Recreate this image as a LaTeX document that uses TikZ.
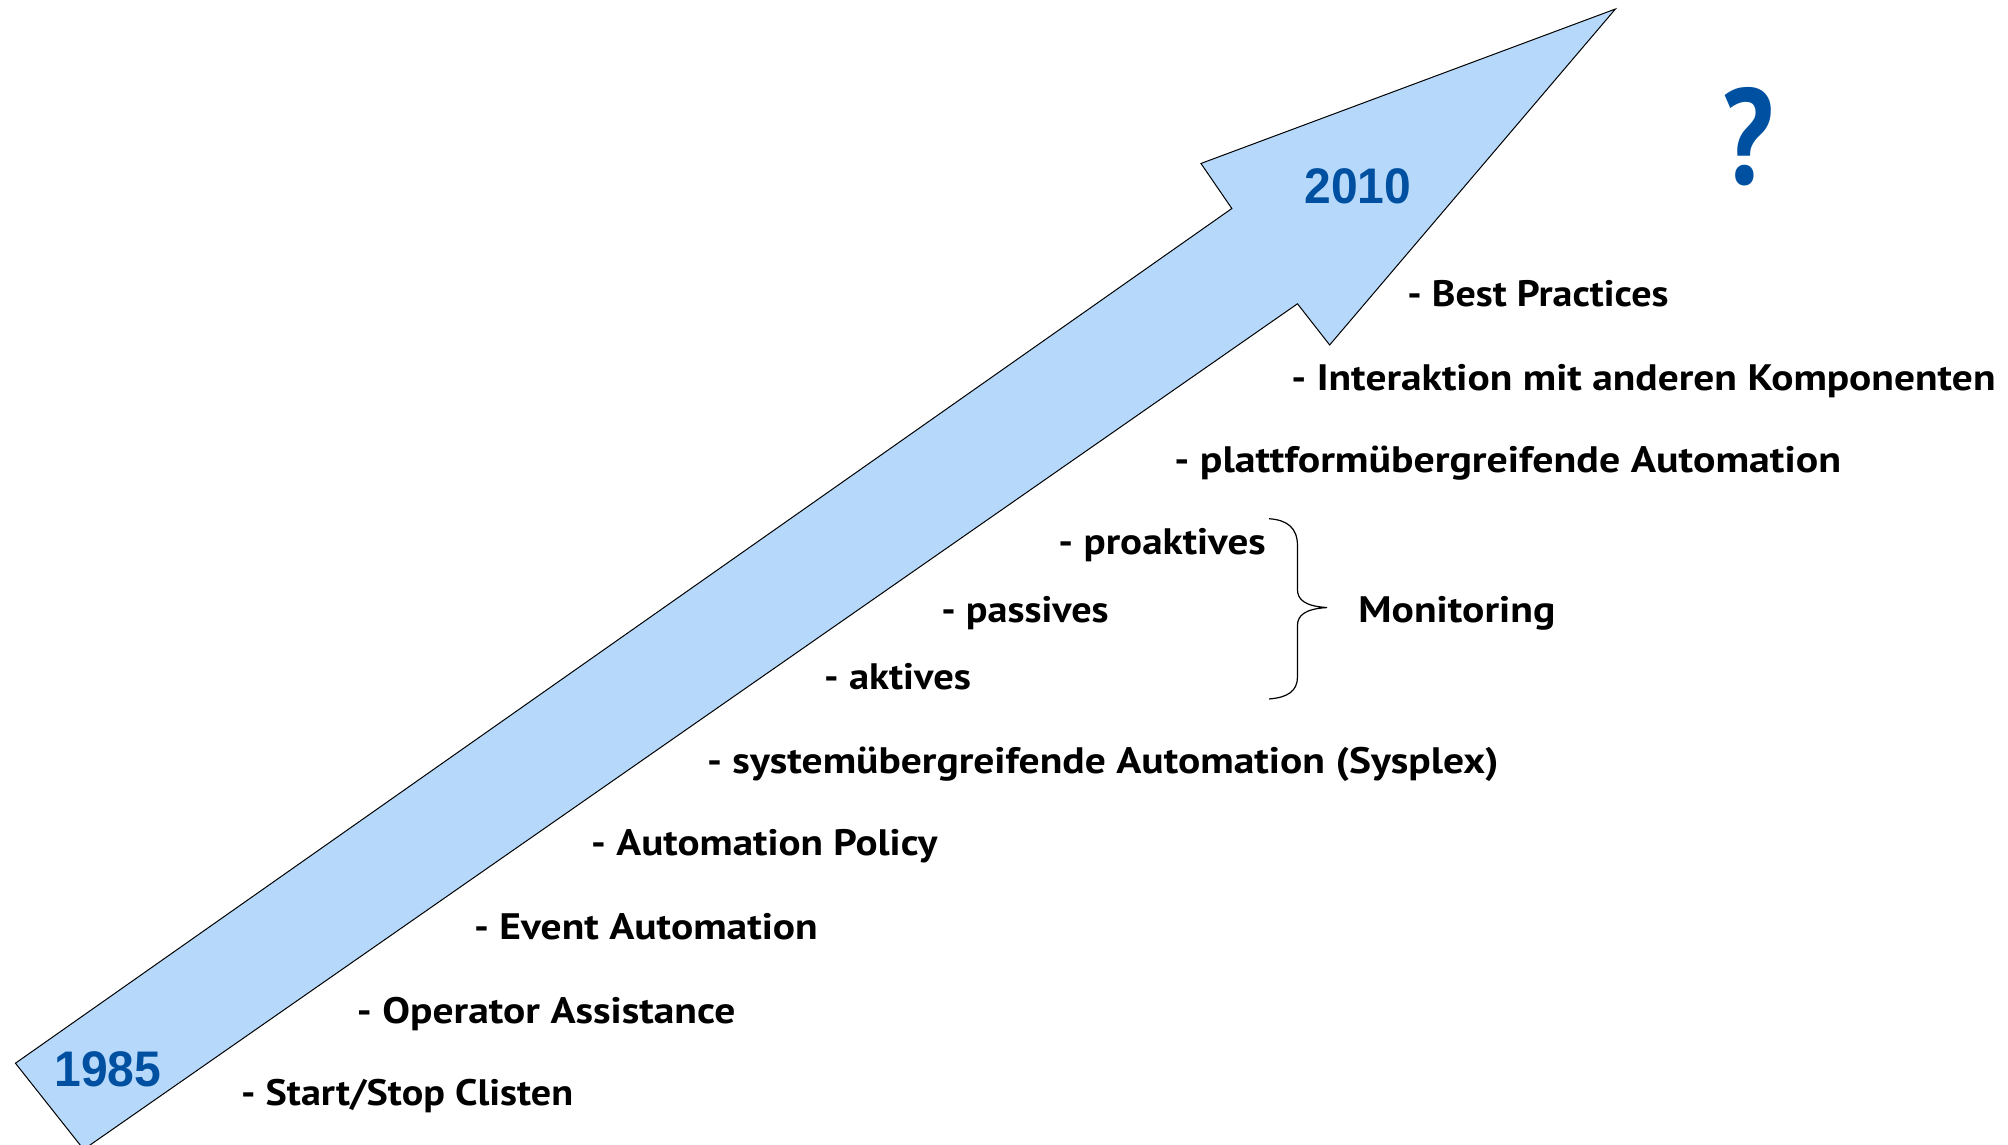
\documentclass[tikz,border=0pt]{standalone}
\usepackage{fontspec}
\setmainfont{PT Sans}
\newfontfamily\yearfont{Liberation Sans}
\usepackage{graphicx}
\definecolor{arrowfill}{RGB}{182,217,251}
\definecolor{yearblue}{RGB}{0,80,162}
\newsavebox\fitbox
\newcommand\fitw[2]{\sbox\fitbox{#2}\pgfmathsetmacro\fitratio{#1*0.6436/\the\wd\fitbox}\scalebox{\fitratio}[1]{\usebox\fitbox}}
\tikzset{
  item/.style={anchor=base west, inner sep=0pt, font=\fontsize{18.4}{20}\selectfont\bfseries, text=black},
  year/.style={anchor=base west, inner sep=0pt, font=\yearfont\fontsize{25}{28}\selectfont\bfseries, text=yearblue},
}
\begin{document}
\begin{tikzpicture}[x=0.6436pt, y=-0.6436pt]
\useasboundingbox (0,0) rectangle (1560,889.5);
% big arrow
\draw[fill=arrowfill, draw=black, line width=0.5pt, line join=miter]
  (12,826) -- (957,162) -- (933,127) -- (1255,7) -- (1033,268) -- (1008,236) -- (65,893) -- cycle;
% years
\node[year] (y1985) at (42,844) {\fitw{83}{1985}};
\node[year] (y2010) at (1013,158) {\fitw{83}{2010}};
\node[anchor=base west, inner sep=0pt, text=yearblue, font=\fontsize{68}{70}\selectfont\bfseries] (q) at (1338,143) {\fitw{40}{?}};
% items
\node[item] (bp) at (1093,238) {\fitw{203}{- Best Practices}};
\node[item] (ik) at (1003,303) {\fitw{547}{- Interaktion mit anderen Komponenten}};
\node[item] (pa) at (912,367) {\fitw{518}{- plattformübergreifende Automation}};
\node[item] (pro) at (822,431) {\fitw{161}{- proaktives}};
\node[item] (pas) at (731,484) {\fitw{130}{- passives}};
\node[item] (akt) at (640,536) {\fitw{114}{- aktives}};
\node[item] (sys) at (549,601) {\fitw{615}{- systemübergreifende Automation (Sysplex)}};
\node[item] (ap) at (459,665) {\fitw{269}{- Automation Policy}};
\node[item] (ea) at (368,730) {\fitw{267}{- Event Automation}};
\node[item] (oa) at (277,795) {\fitw{294}{- Operator Assistance}};
\node[item] (ss) at (187,859) {\fitw{258}{- Start/Stop Clisten}};
\node[item] (mon) at (1055,484) {\fitw{153}{Monitoring}};
% brace
\draw[line width=0.6pt]
  (986,403) .. controls (1000,404) and (1008,410) .. (1008,424) -- (1008,458)
  .. controls (1008,466) and (1014,471) .. (1031,472)
  .. controls (1014,473) and (1008,478) .. (1008,486) -- (1008,526)
  .. controls (1008,537) and (1000,542) .. (986,543);
\end{tikzpicture}
\end{document}
